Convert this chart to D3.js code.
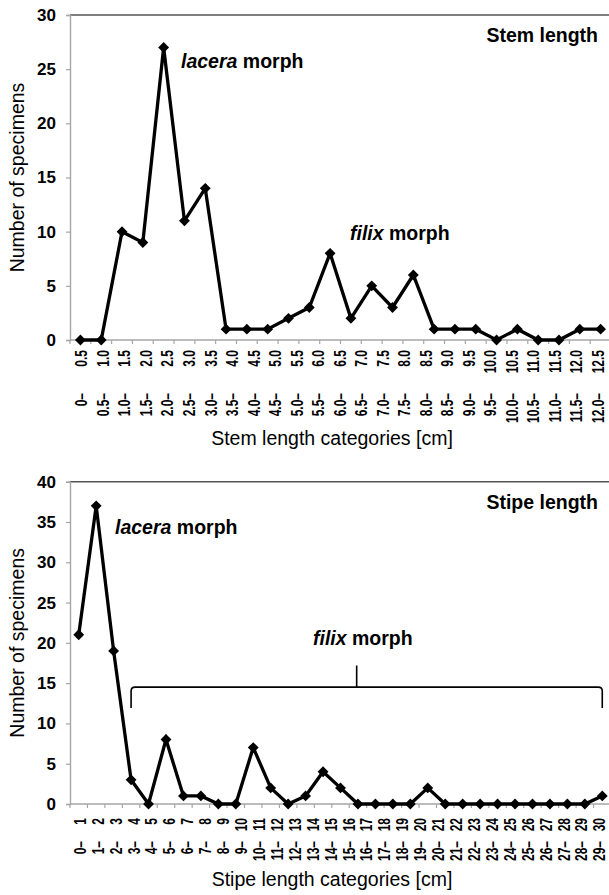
<!DOCTYPE html>
<html>
<head>
<meta charset="utf-8">
<script src="https://cdn.jsdelivr.net/npm/d3@7"></script>
<style>
  body { margin: 0; background: #fff; }
  svg { display: block; font-family: "Liberation Sans", Arial, sans-serif; }
</style>
</head>
<body>
<svg id="chart" width="609" height="895"></svg>
<script>
// stem length histogram
const stemValues = [0, 0, 10, 9, 27, 11, 14, 1, 1, 1, 2, 3, 8, 2, 5, 3, 6, 1, 1, 1, 0, 1, 0, 0, 1, 1];
const stemFrom = ["0", "0.5", "1.0", "1.5", "2.0", "2.5", "3.0", "3.5", "4.0", "4.5", "5.0", "5.5", "6.0",
  "6.5", "7.0", "7.5", "8.0", "8.5", "9.0", "9.5", "10.0", "10.5", "11.0", "11.5", "12.0"];
const stemTo = ["0.5", "1.0", "1.5", "2.0", "2.5", "3.0", "3.5", "4.0", "4.5", "5.0", "5.5", "6.0", "6.5",
  "7.0", "7.5", "8.0", "8.5", "9.0", "9.5", "10.0", "10.5", "11.0", "11.5", "12.0", "12.5"];
const stemTicks = [0, 5, 10, 15, 20, 25, 30];

// stipe length histogram
const stipeValues = [21, 37, 19, 3, 0, 8, 1, 1, 0, 0, 7, 2, 0, 1, 4, 2, 0, 0, 0, 0, 2, 0, 0, 0, 0, 0, 0, 0, 0, 0, 1];
const stipeFrom = d3.range(0, 30).map(String);
const stipeTo = d3.range(1, 31).map(String);
const stipeTicks = [0, 5, 10, 15, 20, 25, 30, 35, 40];

const svg = d3.select("#chart");
const left = 70, right = 611;

function panel(o) {
  const g = svg.append("g");
  const x = d3.scaleBand().domain(d3.range(o.values.length)).range([left, right]);
  const cx = i => x(i) + x.bandwidth() / 2;
  const y = d3.scaleLinear().domain(o.yDomain).range([o.bottom, o.top]);
  const lx = d3.scalePoint().domain(d3.range(o.from.length)).range([cx(0) + 1, cx(o.values.length - 1) - 3]);

  // top frame line
  g.append("line")
    .attr("x1", left).attr("x2", right)
    .attr("y1", o.top).attr("y2", o.top)
    .attr("stroke", "#555").attr("stroke-width", 1.6);

  // y axis
  const ya = g.append("g")
    .attr("transform", `translate(${left},0)`)
    .call(d3.axisLeft(y).tickValues(o.ticks).tickSize(4).tickPadding(10).tickFormat(d3.format("d")));
  ya.select(".domain").attr("stroke", "#a6a6a6").attr("stroke-width", 1.4);
  ya.selectAll(".tick line").attr("stroke", "#a6a6a6").attr("stroke-width", 1.2);
  ya.selectAll(".tick text").attr("font-size", 17).attr("font-weight", "bold").attr("fill", "#000")
    .attr("font-family", "Liberation Sans, Arial, sans-serif");

  // x axis with ticks between categories
  g.append("line")
    .attr("x1", left).attr("x2", right)
    .attr("y1", o.bottom).attr("y2", o.bottom)
    .attr("stroke", "#a6a6a6").attr("stroke-width", 1.4);
  g.append("g").selectAll("line")
    .data(d3.range(o.values.length + 1))
    .join("line")
    .attr("x1", i => left + i * x.step()).attr("x2", i => left + i * x.step())
    .attr("y1", o.bottom).attr("y2", o.bottom + 4)
    .attr("stroke", "#a6a6a6").attr("stroke-width", 1.2);

  // category labels, two rows, rotated (glyphs a little wide as in the source)
  const lab = g.append("g").attr("font-size", 12).attr("font-weight", "bold");
  lab.selectAll("text.to")
    .data(o.to)
    .join("text")
    .attr("class", "to")
    .attr("transform", (d, i) => `translate(${lx(i)},${o.bottom + o.rowA}) rotate(-90) scale(1,1.4)`)
    .attr("text-anchor", "end").attr("dy", "0.36em")
    .text(d => d);
  lab.selectAll("text.from")
    .data(o.from)
    .join("text")
    .attr("class", "from")
    .attr("transform", (d, i) => `translate(${lx(i)},${o.bottom + o.rowB}) rotate(-90) scale(1,1.4)`)
    .attr("text-anchor", "end").attr("dy", "0.36em")
    .text(d => d + "\u2013");

  // line + diamond markers
  const line = d3.line().x((d, i) => cx(i)).y(d => y(d));
  g.append("path")
    .datum(o.values)
    .attr("d", line)
    .attr("fill", "none").attr("stroke", "#000").attr("stroke-width", 3.3)
    .attr("stroke-linejoin", "miter");
  g.append("g").selectAll("path")
    .data(o.values)
    .join("path")
    .attr("transform", (d, i) => `translate(${cx(i)},${y(d)})`)
    .attr("d", d3.symbol(d3.symbolDiamond2, 75))
    .attr("fill", "#000");

  // titles
  g.append("text")
    .attr("x", 332).attr("y", o.xTitleY)
    .attr("text-anchor", "middle").attr("font-size", 19.5)
    .text(o.xTitle);
  g.append("text")
    .attr("transform", `translate(24,${(o.top + o.bottom) / 2}) rotate(-90)`)
    .attr("text-anchor", "middle").attr("font-size", 19.5)
    .text("Number of specimens");
  g.append("text")
    .attr("x", 598).attr("y", o.top + 27)
    .attr("text-anchor", "end").attr("font-size", 19.5).attr("font-weight", "bold")
    .text(o.name);

  return { g, x, cx, y };
}

function morphLabel(g, xPos, yPos, name) {
  const t = g.append("text")
    .attr("x", xPos).attr("y", yPos)
    .attr("font-size", 19.5).attr("font-weight", "bold");
  t.append("tspan").attr("font-style", "italic").text(name);
  t.append("tspan").text(" morph");
}

const stemPanel = panel({
  values: stemValues, from: stemFrom, to: stemTo, ticks: stemTicks,
  yDomain: [0, 30], top: 15, bottom: 340, rowA: 10, rowB: 53,
  xTitle: "Stem length categories [cm]", xTitleY: 445, name: "Stem length"
});
morphLabel(stemPanel.g, 181, 68, "lacera");
morphLabel(stemPanel.g, 350, 240, "filix");

const stipePanel = panel({
  values: stipeValues, from: stipeFrom, to: stipeTo, ticks: stipeTicks,
  yDomain: [0, 40], top: 481.7, bottom: 804, rowA: 14, rowB: 37,
  xTitle: "Stipe length categories [cm]", xTitleY: 886, name: "Stipe length"
});
morphLabel(stipePanel.g, 115, 534, "lacera");
morphLabel(stipePanel.g, 313, 645, "filix");

// bracket over the filix categories
const bx0 = stipePanel.cx(3), bx1 = stipePanel.cx(stipeValues.length - 1);
const by = stipePanel.y(14.5), byEnd = stipePanel.y(11.9), byTop = stipePanel.y(17.2);
const bm = (bx0 + bx1) / 2 - 10;
const r = 4;
stipePanel.g.append("path")
  .attr("d", `M${bx0},${byEnd} L${bx0},${by + r} Q${bx0},${by} ${bx0 + r},${by}
    L${bx1 - r},${by} Q${bx1},${by} ${bx1},${by + r} L${bx1},${byEnd}
    M${bm},${by} L${bm},${byTop}`)
  .attr("fill", "none").attr("stroke", "#000").attr("stroke-width", 1.6);
</script>
</body>
</html>
